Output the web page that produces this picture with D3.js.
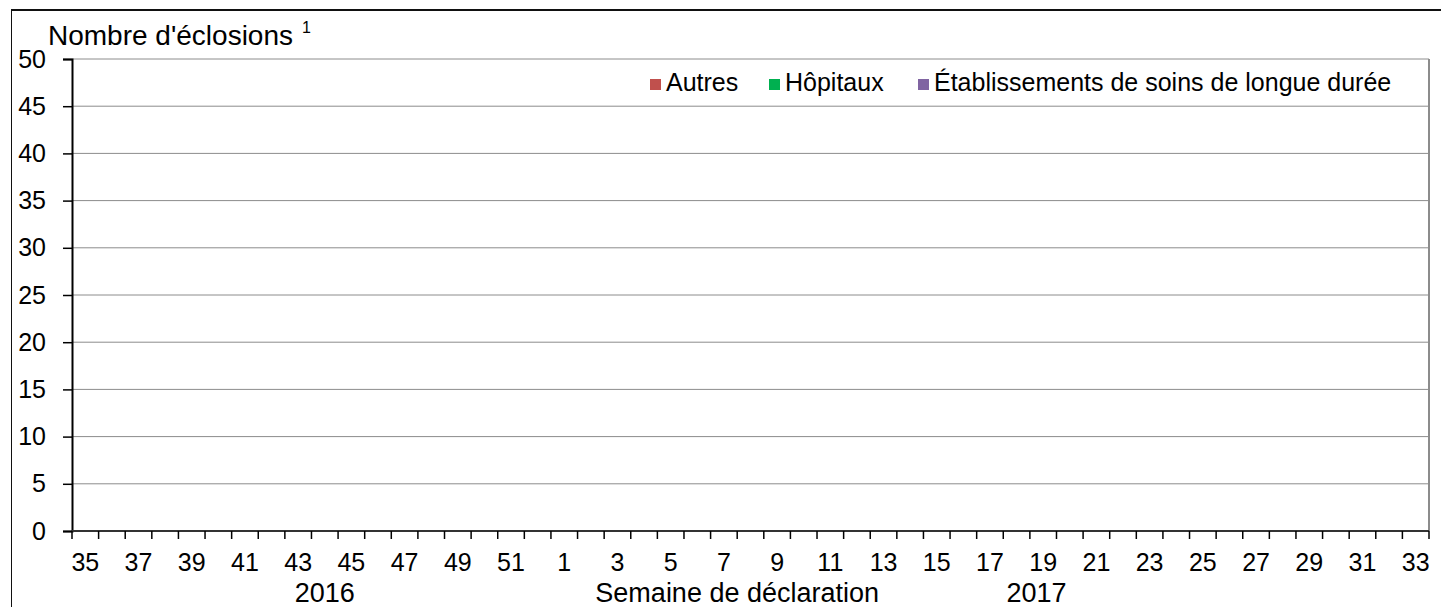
<!DOCTYPE html>
<html>
<head>
<meta charset="utf-8">
<script src="https://cdn.jsdelivr.net/npm/d3@7"></script>
<style>
  body { margin: 0; background: #fff; }
  text { font-family: "Liberation Sans", Arial, sans-serif; fill: #000; }
</style>
</head>
<body>
<div id="chart"></div>
<script>
// weeks of report, 2016 (35-52) then 2017 (1-33)
const weeks2016 = d3.range(35, 53);
const weeks2017 = d3.range(1, 34);
const weeks = weeks2016.map(w => "2016-" + w).concat(weeks2017.map(w => "2017-" + w));

// number of outbreaks per week, all empty in this period
const autres = weeks.map(() => 0);
const hopitaux = weeks.map(() => 0);
const etablissements = weeks.map(() => 0);

const seriesNames = ["Autres", "Hôpitaux", "Établissements de soins de longue durée"];
const seriesColors = ["#C0504D", "#00B050", "#8064A2"];
const yTicks = d3.range(0, 51, 5);

const width = 1441, height = 607;
const margin = {top: 59, right: 12, bottom: 76, left: 72};

const svg = d3.create("svg")
    .attr("width", width)
    .attr("height", height);

// outer frame (top + left)
svg.append("line").attr("x1", 11).attr("x2", width).attr("y1", 10).attr("y2", 10)
    .attr("stroke", "#111").attr("stroke-width", 2);
svg.append("line").attr("x1", 11.5).attr("x2", 11.5).attr("y1", 10).attr("y2", height)
    .attr("stroke", "#111").attr("stroke-width", 1);

const x = d3.scaleBand()
    .domain(weeks)
    .range([margin.left, width - margin.right]);

const y = d3.scaleLinear()
    .domain([0, 50])
    .range([height - margin.bottom, margin.top]);

// gridlines
svg.append("g")
    .selectAll("line")
    .data(yTicks.filter(d => d > 0))
    .enter().append("line")
    .attr("x1", margin.left).attr("x2", width - margin.right)
    .attr("y1", d => y(d)).attr("y2", d => y(d))
    .attr("stroke", "#8c8c8c").attr("stroke-width", 1);

// right border of plot area
svg.append("line")
    .attr("x1", width - margin.right).attr("x2", width - margin.right)
    .attr("y1", y(50)).attr("y2", y(0))
    .attr("stroke", "#8c8c8c").attr("stroke-width", 2);

// stacked bars
const table = weeks.map((w, i) => ({week: w, Autres: autres[i], "Hôpitaux": hopitaux[i],
    "Établissements de soins de longue durée": etablissements[i]}));
const stack = d3.stack().keys(seriesNames)(table);
const barW = x.bandwidth() * 0.6;
svg.append("g")
    .selectAll("g")
    .data(stack)
    .enter().append("g")
    .attr("fill", (d, i) => seriesColors[i])
    .selectAll("rect")
    .data(d => d)
    .enter().append("rect")
    .attr("x", d => x(d.data.week) + (x.bandwidth() - barW) / 2)
    .attr("width", barW)
    .attr("y", d => y(d[1]))
    .attr("height", d => y(d[0]) - y(d[1]));

// y axis
const yAxis = svg.append("g")
    .attr("transform", `translate(${margin.left},0)`)
    .call(d3.axisLeft(y).tickValues(yTicks).tickSize(9).tickPadding(17));
yAxis.select(".domain").attr("stroke", "#000").attr("stroke-width", 2);
yAxis.selectAll(".tick line").attr("stroke", "#000").attr("stroke-width", 1.5);
yAxis.selectAll("text")
    .style("font-family", '"Liberation Sans", Arial, sans-serif')
    .style("font-size", "25px")
    .attr("fill", "#000");

// x axis: ticks at category boundaries, labels every other week
const xBase = y(0);
svg.append("line")
    .attr("x1", margin.left).attr("x2", width - margin.right)
    .attr("y1", xBase).attr("y2", xBase)
    .attr("stroke", "#333").attr("stroke-width", 2);

const bounds = weeks.map(w => x(w)).concat([x(weeks[weeks.length - 1]) + x.step()]);
svg.append("g")
    .selectAll("line")
    .data(bounds)
    .enter().append("line")
    .attr("x1", d => d).attr("x2", d => d)
    .attr("y1", xBase).attr("y2", xBase + 8)
    .attr("stroke", "#000").attr("stroke-width", 1.5);

svg.append("g")
    .selectAll("text")
    .data(weeks.filter((w, i) => i % 2 === 0))
    .enter().append("text")
    .attr("x", d => x(d) + x.bandwidth() / 2)
    .attr("y", xBase + 40)
    .attr("text-anchor", "middle")
    .style("font-size", "25px")
    .text(d => d.split("-")[1]);

// year and axis title
const bottomFont = "27px";
svg.append("text")
    .attr("x", x("2016-44") + x.bandwidth() / 2)
    .attr("y", xBase + 71)
    .attr("text-anchor", "middle")
    .style("font-size", bottomFont)
    .text("2016");
svg.append("text")
    .attr("x", x("2017-8"))
    .attr("y", xBase + 71)
    .attr("text-anchor", "middle")
    .style("font-size", bottomFont)
    .text("Semaine de déclaration");
svg.append("text")
    .attr("x", x("2017-19") + x.bandwidth() * 0.25)
    .attr("y", xBase + 71)
    .attr("text-anchor", "middle")
    .style("font-size", bottomFont)
    .text("2017");

// y axis title
const yTitle = svg.append("text")
    .attr("x", 48)
    .attr("y", 45)
    .style("font-size", "28px")
    .text("Nombre d'éclosions");
yTitle.append("tspan")
    .attr("dx", 9)
    .attr("dy", -12)
    .style("font-size", "16px")
    .text("1");

// legend
const legendX = [650, 769, 918];
const legend = svg.append("g")
    .selectAll("g")
    .data(seriesNames)
    .enter().append("g")
    .attr("transform", (d, i) => `translate(${legendX[i]},79)`);
legend.append("rect")
    .attr("width", 11).attr("height", 11)
    .attr("fill", (d, i) => seriesColors[i]);
legend.append("text")
    .attr("x", 16)
    .attr("y", 12)
    .style("font-size", "25px")
    .text(d => d);

document.getElementById("chart").appendChild(svg.node());
</script>
</body>
</html>
